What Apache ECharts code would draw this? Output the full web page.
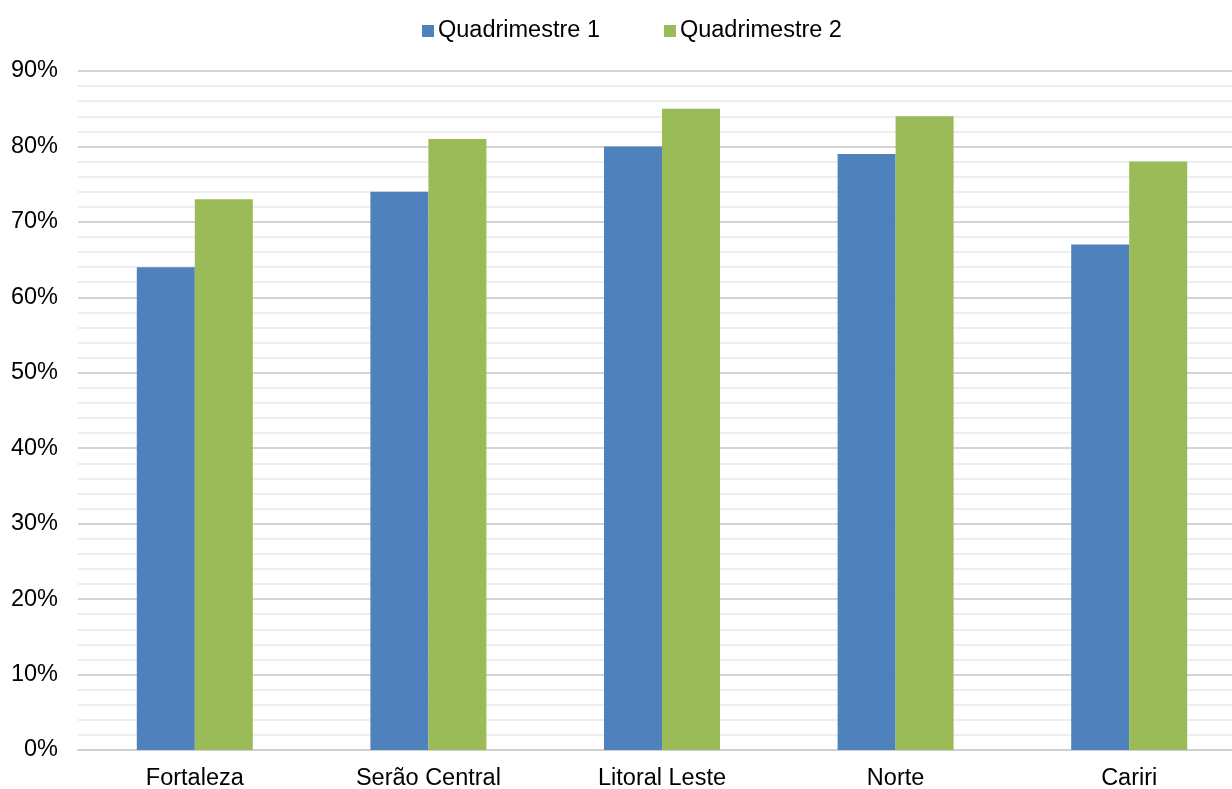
<!DOCTYPE html>
<html>
<head>
<meta charset="utf-8">
<script src="https://cdn.jsdelivr.net/npm/echarts@6/dist/echarts.min.js"></script>
<style>
  html, body { margin: 0; padding: 0; background: #fff; }
  #chart { width: 1232px; height: 789px; }
</style>
</head>
<body>
<div id="chart"></div>
<script>
const regions = ["Fortaleza", "Serão Central", "Litoral Leste", "Norte", "Cariri"];
const quad1 = [64, 74, 80, 79, 67];
const quad2 = [73, 81, 85, 84, 78];

let chart = echarts.init(document.getElementById("chart"));
let option = {
  animation: false,
  textStyle: { fontFamily: "Liberation Sans" },
  color: ["#4f81bd", "#9bbb59"],
  legend: {
    top: 14,
    left: 417,
    itemWidth: 12,
    itemHeight: 12,
    itemGap: 64,
    icon: "rect",
    textStyle: { fontSize: 23.5, color: "#000", padding: [0, 0, 0, -1] },
    data: ["Quadrimestre 1", "Quadrimestre 2"]
  },
  grid: { left: 78, right: -14, top: 71, bottom: 39, outerBoundsMode: "none" },
  xAxis: {
    type: "category",
    data: regions,
    axisTick: { show: false },
    axisLine: { lineStyle: { color: "#d0d0d0", width: 2 } },
    axisLabel: { fontSize: 23.5, color: "#000", margin: 17 }
  },
  yAxis: {
    type: "value",
    min: 0,
    max: 90,
    interval: 10,
    axisLine: { show: false },
    axisTick: { show: false },
    axisLabel: { fontSize: 23.5, color: "#000", margin: 20, formatter: "{value}%" },
    splitLine: { lineStyle: { color: "#d4d4d4", width: 2 } },
    minorTick: { show: false, splitNumber: 5 },
    minorSplitLine: { show: true, lineStyle: { color: "#eeeeee", width: 2 } }
  },
  series: [
    { name: "Quadrimestre 1", type: "bar", data: quad1, barWidth: 58, barGap: "0%" },
    { name: "Quadrimestre 2", type: "bar", data: quad2, barWidth: 58, barGap: "0%" }
  ]
};
chart.setOption(option);
</script>
</body>
</html>
